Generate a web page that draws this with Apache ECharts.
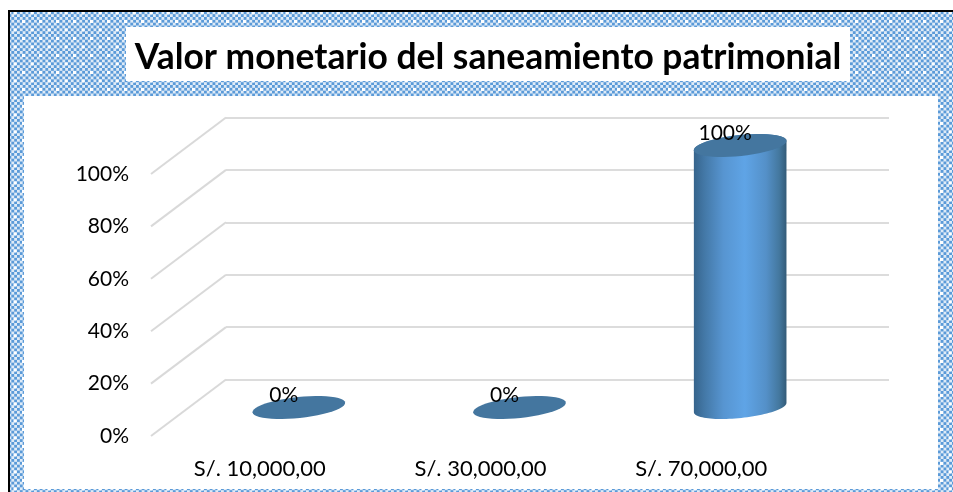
<!DOCTYPE html>
<html>
<head>
<meta charset="utf-8">
<script src="https://cdn.jsdelivr.net/npm/echarts@6/dist/echarts.min.js"></script>
<style>html,body{margin:0;padding:0;background:#fff}#c{width:953px;height:492px}</style>
</head>
<body>
<div id="c"></div>
<script>
const chartTitle = 'Valor monetario del saneamiento patrimonial';
const categories = ['S/. 10,000,00', 'S/. 30,000,00', 'S/. 70,000,00'];
const values = [0, 0, 100];
const ticks = [0, 20, 40, 60, 80, 100];

const FONT = 'Lato, "Open Sans", sans-serif';
const FRONT = {left: 151, top: 174, width: 662, height: 262};
const DEPTH = {dx: 75, dy: 56.5};
const BAR_RATIO = 0.422;

function makeTile() {
  const n = 17, cells = 6, s = n / cells;
  const cv = document.createElement('canvas');
  cv.width = n; cv.height = n;
  const g = cv.getContext('2d');
  g.fillStyle = '#dfebf7'; g.fillRect(0, 0, n, n);
  g.fillStyle = '#5a9ad8';
  for (let i = 0; i < cells; i++) for (let j = 0; j < cells; j++) {
    if ((i + j) % 2 === 0) g.fillRect(i * s, j * s, s, s);
  }
  g.fillStyle = '#ffffff';
  g.fillRect(5, 3, 3, 3); g.fillRect(13.5, 11.5, 3, 3);
  return cv;
}
const tile = {image: makeTile(), repeat: 'repeat'};

function ellipsePts(cx, cy, a, b, from, to) {
  const rot = -6 * Math.PI / 180, pts = [];
  for (let i = 0; i <= 48; i++) {
    const t = from + (to - from) * i / 48;
    const x = a * Math.cos(t), y = b * Math.sin(t);
    pts.push([cx + x * Math.cos(rot) - y * Math.sin(rot), cy + x * Math.sin(rot) + y * Math.cos(rot)]);
  }
  return pts;
}

function renderBar(params, api) {
  const cat = api.value(0), val = api.value(1);
  const top = api.coord([cat, val]), base = api.coord([cat, 0]);
  const a = api.size([1, 0])[0] * BAR_RATIO / 2, b = 10.5;
  const children = [];
  if (val > 0) {
    const lower = ellipsePts(base[0], base[1], a, b, 0, Math.PI);
    const upper = ellipsePts(top[0], top[1], a, b, Math.PI, 2 * Math.PI);
    children.push({
      type: 'polygon',
      shape: {points: lower.concat(upper)},
      style: {
        fill: new echarts.graphic.LinearGradient(0, 0, 1, 0, [
          {offset: 0, color: '#36648c'},
          {offset: 0.12, color: '#4479a8'},
          {offset: 0.32, color: '#5795d1'},
          {offset: 0.55, color: '#5fa4e6'},
          {offset: 0.78, color: '#5490c8'},
          {offset: 0.92, color: '#44789f'},
          {offset: 1, color: '#335b78'}
        ])
      }
    });
  }
  children.push({
    type: 'polygon',
    shape: {points: ellipsePts(top[0], top[1], a, b, 0, 2 * Math.PI)},
    style: {fill: '#44769f'}
  });
  children.push({
    type: 'text',
    style: {
      text: val + '%', x: top[0] - 15, y: top[1] - 12.5,
      align: 'center', verticalAlign: 'middle',
      font: '21px ' + FONT, fill: '#000'
    }
  });
  return {type: 'group', children};
}

function renderDiagonal(params, api) {
  const back = api.coord([0, api.value(0)]);
  return {
    type: 'line',
    shape: {x1: back[0], y1: back[1], x2: back[0] - DEPTH.dx, y2: back[1] + DEPTH.dy},
    style: {stroke: '#d9d9d9', lineWidth: 2}
  };
}

const chart = echarts.init(document.getElementById('c'), null, {renderer: 'canvas'});
chart.setOption({
  animation: false,
  backgroundColor: '#fff',
  graphic: [
    {type: 'rect', z: -10, shape: {x: 10, y: 12, width: 943, height: 480}, style: {fill: tile}},
    {type: 'rect', z: -9, shape: {x: 24, y: 96, width: 914, height: 393}, style: {fill: '#fff'}},
    {type: 'rect', z: -9, shape: {x: 126, y: 27, width: 724, height: 54}, style: {fill: '#fff'}},
    {type: 'rect', z: -8, shape: {x: 8, y: 10, width: 945, height: 2}, style: {fill: '#000'}},
    {type: 'rect', z: -8, shape: {x: 8, y: 10, width: 2, height: 482}, style: {fill: '#000'}}
  ],
  title: {
    text: chartTitle, left: 483, top: 31, textAlign: 'center',
    textStyle: {fontFamily: FONT, fontWeight: 'bold', fontSize: 35.4, color: '#000', lineHeight: 44}
  },
  grid: [
    {left: FRONT.left, top: FRONT.top, width: FRONT.width, height: FRONT.height},
    {left: FRONT.left + DEPTH.dx, top: FRONT.top - DEPTH.dy, width: 663, height: FRONT.height},
    {left: FRONT.left + 37.5, top: 145.5, width: FRONT.width, height: FRONT.height}
  ],
  xAxis: [
    {gridIndex: 0, type: 'category', data: categories, axisLine: {show: false}, axisTick: {show: false},
     axisLabel: {margin: 22, color: '#000', fontFamily: FONT, fontSize: 22, padding: [0, 3, 0, 0]}},
    {gridIndex: 1, type: 'value', min: 0, max: 1, show: false},
    {gridIndex: 2, type: 'category', data: categories, show: false}
  ],
  yAxis: [
    {gridIndex: 0, type: 'value', min: 0, max: 100, interval: 20, splitLine: {show: false},
     axisLine: {show: false}, axisTick: {show: false},
     axisLabel: {margin: 22, color: '#000', fontFamily: FONT, fontSize: 21, padding: [5, 0, 0, 0], formatter: '{value}%'}},
    {gridIndex: 1, type: 'value', min: 0, max: 100, interval: 20, axisLabel: {show: false},
     axisLine: {show: false}, axisTick: {show: false},
     splitLine: {show: true, lineStyle: {color: '#dcdcdc', width: 2}}},
    {gridIndex: 2, type: 'value', min: 0, max: 100, show: false}
  ],
  series: [
    {type: 'custom', xAxisIndex: 1, yAxisIndex: 1, coordinateSystem: 'cartesian2d', clip: false,
     data: ticks.map(t => [t]), encode: {y: 0}, renderItem: renderDiagonal, silent: true, z: 1},
    {type: 'custom', xAxisIndex: 2, yAxisIndex: 2, coordinateSystem: 'cartesian2d', clip: false,
     data: values.map((v, i) => [i, v]), encode: {x: 0, y: 1}, renderItem: renderBar, z: 3}
  ]
});
</script>
</body>
</html>
